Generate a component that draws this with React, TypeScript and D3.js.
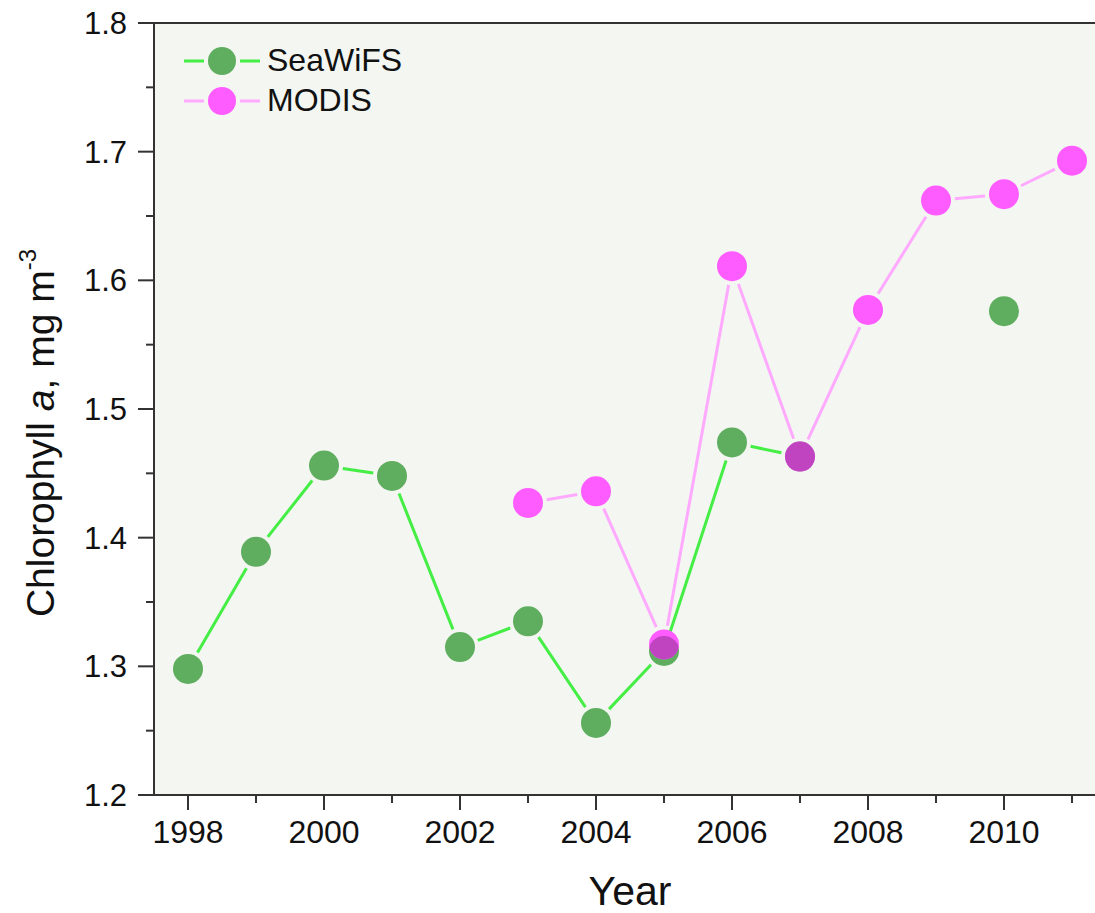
import React from 'react';
import * as d3 from 'd3';

const seaYears = [1998, 1999, 2000, 2001, 2002, 2003, 2004, 2005, 2006, 2007, 2010];
const seaValues = [1.298, 1.389, 1.456, 1.448, 1.315, 1.335, 1.256, 1.312, 1.474, 1.463, 1.576];
const modisYears = [2003, 2004, 2005, 2006, 2007, 2008, 2009, 2010, 2011];
const modisValues = [1.427, 1.436, 1.317, 1.611, 1.463, 1.577, 1.662, 1.667, 1.693];
const xMajorTicks = [1998, 2000, 2002, 2004, 2006, 2008, 2010];
const xMinorTicks = [1999, 2001, 2003, 2005, 2007, 2009, 2011];
const yMajorTicks = [1.2, 1.3, 1.4, 1.5, 1.6, 1.7, 1.8];
const yMinorTicks = [1.25, 1.35, 1.45, 1.55, 1.65, 1.75];

const W = 1095;
const H = 913;
const left = 154;
const top = 23;
const bottom = 795;

const GREEN = '#5fae5f';
const GREEN_LINE = '#44ee44';
const MAGENTA = '#ff5cff';
const PINK_LINE = '#ffaaff';
const PURPLE = '#c043c0';
const R = 15;
const FONT = 'Arial, "Liberation Sans", Helvetica, sans-serif';

const x = d3.scaleLinear().domain([1997.5, 2011.5]).range([left, left + 14 * 68]);
const y = d3.scaleLinear().domain([1.2, 1.8]).range([bottom, top]);

type Pt = { year: number; v: number };

// connect consecutive years only, leave a small gap around each marker
function segments(pts: Pt[], gap: number) {
  const segs: { x1: number; y1: number; x2: number; y2: number }[] = [];
  for (let i = 1; i < pts.length; i++) {
    if (pts[i].year - pts[i - 1].year !== 1) continue;
    const ax = x(pts[i - 1].year), ay = y(pts[i - 1].v);
    const bx = x(pts[i].year), by = y(pts[i].v);
    const len = Math.hypot(bx - ax, by - ay);
    if (len <= gap * 2) continue;
    const ux = (bx - ax) / len, uy = (by - ay) / len;
    segs.push({ x1: ax + ux * gap, y1: ay + uy * gap, x2: bx - ux * gap, y2: by - uy * gap });
  }
  return segs;
}

export default function App() {
  const sea: Pt[] = seaYears.map((yr, i) => ({ year: yr, v: seaValues[i] }));
  const modis: Pt[] = modisYears.map((yr, i) => ({ year: yr, v: modisValues[i] }));
  const gap = R + 4;

  return (
    <svg width={W} height={H} style={{ position: 'absolute', left: 0, top: 0, background: '#fff' }}
      fontFamily={FONT}>
      <defs>
        <clipPath id="modisClip">
          {modis.map((d, i) => (
            <circle key={i} cx={x(d.year)} cy={y(d.v)} r={R} />
          ))}
        </clipPath>
      </defs>

      <rect x={left} y={top} width={W - left} height={bottom - top} fill="#f3f6f1" />

      {/* frame / axes */}
      <line x1={left} x2={W} y1={top} y2={top} stroke="#333" strokeWidth={2} />
      <line x1={left} x2={left} y1={top} y2={bottom} stroke="#333" strokeWidth={2} />
      <line x1={138} x2={W} y1={bottom} y2={bottom} stroke="#333" strokeWidth={2} />

      {yMajorTicks.map(t => (
        <g key={'ym' + t}>
          <line x1={left - 16} x2={left} y1={y(t)} y2={y(t)} stroke="#333" strokeWidth={2} />
          <text x={127} y={y(t)} dy="0.36em" textAnchor="end" fontSize={31} fill="#111">{t.toFixed(1)}</text>
        </g>
      ))}
      {yMinorTicks.map(t => (
        <line key={'yn' + t} x1={left - 8} x2={left} y1={y(t)} y2={y(t)} stroke="#333" strokeWidth={2} />
      ))}
      {xMajorTicks.map(t => (
        <g key={'xm' + t}>
          <line x1={x(t)} x2={x(t)} y1={bottom} y2={bottom + 15} stroke="#333" strokeWidth={2} />
          <text x={x(t)} y={bottom + 48} textAnchor="middle" fontSize={32} fill="#111">{t}</text>
        </g>
      ))}
      {xMinorTicks.map(t => (
        <line key={'xn' + t} x1={x(t)} x2={x(t)} y1={bottom} y2={bottom + 8} stroke="#333" strokeWidth={2} />
      ))}

      <text x={630} y={905} textAnchor="middle" fontSize={41} fill="#111">Year</text>
      <text transform="translate(54,433) rotate(-90)" textAnchor="middle" fontSize={39} fill="#111">
        Chlorophyll <tspan fontStyle="italic">a</tspan>, mg m<tspan fontSize={24} dy={-18}>-3</tspan>
      </text>

      {/* SeaWiFS */}
      {segments(sea, gap).map((s, i) => (
        <line key={'gs' + i} {...s} stroke={GREEN_LINE} strokeWidth={3} />
      ))}
      {sea.map((d, i) => (
        <circle key={'gc' + i} cx={x(d.year)} cy={y(d.v)} r={R} fill={GREEN} />
      ))}

      {/* MODIS */}
      {segments(modis, gap).map((s, i) => (
        <line key={'ms' + i} {...s} stroke={PINK_LINE} strokeWidth={3} />
      ))}
      {modis.map((d, i) => (
        <circle key={'mc' + i} cx={x(d.year)} cy={y(d.v)} r={R} fill={MAGENTA} />
      ))}
      <g clipPath="url(#modisClip)">
        {sea.map((d, i) => (
          <circle key={'pc' + i} cx={x(d.year)} cy={y(d.v)} r={R} fill={PURPLE} />
        ))}
      </g>

      {/* legend */}
      {[
        { label: 'SeaWiFS', fill: GREEN, line: GREEN_LINE, cy: 61, base: 71 },
        { label: 'MODIS', fill: MAGENTA, line: PINK_LINE, cy: 101, base: 111 },
      ].map(l => (
        <g key={l.label}>
          <line x1={184} x2={204} y1={l.cy} y2={l.cy} stroke={l.line} strokeWidth={3} />
          <line x1={240} x2={260} y1={l.cy} y2={l.cy} stroke={l.line} strokeWidth={3} />
          <circle cx={222} cy={l.cy} r={14} fill={l.fill} />
          <text x={267} y={l.base} fontSize={32} fill="#111">{l.label}</text>
        </g>
      ))}
    </svg>
  );
}
